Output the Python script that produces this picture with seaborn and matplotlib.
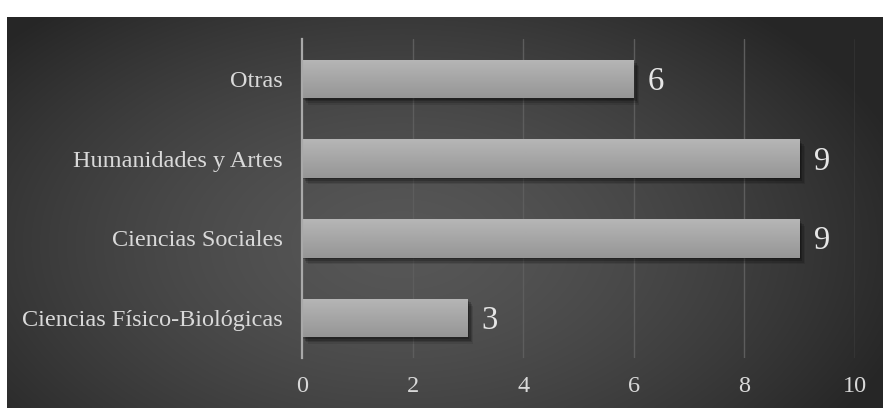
import numpy as np
import pandas as pd
import matplotlib
matplotlib.use("Agg")
import matplotlib.pyplot as plt
import matplotlib.patheffects as pe
import seaborn as sns

# Data
categories = ["Otras", "Humanidades y Artes", "Ciencias Sociales", "Ciencias Físico-Biológicas"]
values = [6, 9, 9, 3]
xticks = [0, 2, 4, 6, 8, 10]

sns.set_theme(style="white")
plt.rcParams["font.family"] = ["Liberation Serif", "DejaVu Serif"]

W, H = 883, 408
fig = plt.figure(figsize=(W / 100, H / 100), dpi=100)
fig.patch.set_facecolor("white")

# Dark radial-gradient panel behind the chart
bg = fig.add_axes([7 / W, 0, 1 - 7 / W, 1 - 17 / H])
bg.set_axis_off()
ny, nx = 200, 440
yy, xx = np.mgrid[0:ny, 0:nx]
cx, cy = 0.45 * nx, 0.58 * ny
r = np.sqrt(((xx - cx) / (0.60 * nx)) ** 2 + ((yy - cy) / (0.80 * ny)) ** 2)
r = np.clip(r, 0, 1)
lum = 0.34 - 0.19 * r ** 1.5
img = np.dstack([lum, lum, lum])
bg.imshow(img, aspect="auto", extent=[0, 1, 0, 1], origin="upper", interpolation="bicubic")
bg.set_xlim(0, 1)
bg.set_ylim(0, 1)

# Main chart axes
ax = fig.add_axes([302 / W, 1 - 358 / H, (855 - 302) / W, (358 - 39) / H])
ax.patch.set_alpha(0)

df = pd.DataFrame({"category": categories, "value": values})
sns.barplot(data=df, x="value", y="category", orient="h", color="#a8a8a8",
            width=0.48, ax=ax, zorder=3, saturation=1, linewidth=0)

ax.set_xlim(0, 10)
ax.set_xticks(xticks)
ax.set_xlabel("")
ax.set_ylabel("")
for s in ["top", "right", "bottom"]:
    ax.spines[s].set_visible(False)
ax.spines["left"].set_color("#a9a9a9")
ax.spines["left"].set_linewidth(1.6)
ax.spines["left"].set_zorder(5)

for xv in xticks[1:]:
    ax.axvline(xv, color="#5d5d5d", lw=1.0, zorder=1)

ax.tick_params(axis="both", length=0, colors="#d9d9d9", labelsize=17.5)
ax.tick_params(axis="y", pad=14)
ax.tick_params(axis="x", pad=13)

# Gradient fill and soft layered shadow for each bar
grad = np.linspace(0, 1, 64).reshape(-1, 1)
cmap = matplotlib.colors.LinearSegmentedColormap.from_list("bar", ["#b6b6b6", "#969696"])
shadow = [pe.SimplePatchShadow(offset=(o, -o * 1.2), shadow_rgbFace="black", alpha=a)
          for o, a in [(4, 0.10), (3, 0.15), (2, 0.2), (1, 0.2)]]
for p in ax.patches:
    p.set_edgecolor("none")
    p.set_path_effects(shadow + [pe.Normal()])
    x0, y0 = p.get_x(), p.get_y()
    w, h = p.get_width(), p.get_height()
    im = ax.imshow(grad, cmap=cmap, aspect="auto", extent=[x0, x0 + w, y0 + h, y0],
                   origin="upper", zorder=4, interpolation="bicubic")
    im.set_clip_path(p)

ax.set_ylim(3.5, -0.5)
ax.set_xlim(0, 10)

labels = ax.bar_label(ax.containers[0], labels=[str(v) for v in values], padding=10,
                      color="#e6e6e6", fontsize=23.5, zorder=6)
# nudge the value labels down so the digits sit on the bar's centre line
for t in labels:
    dx, dy = t.xyann
    t.xyann = (dx, dy - 2)

fig.savefig("out.png", dpi=100, facecolor=fig.get_facecolor())
